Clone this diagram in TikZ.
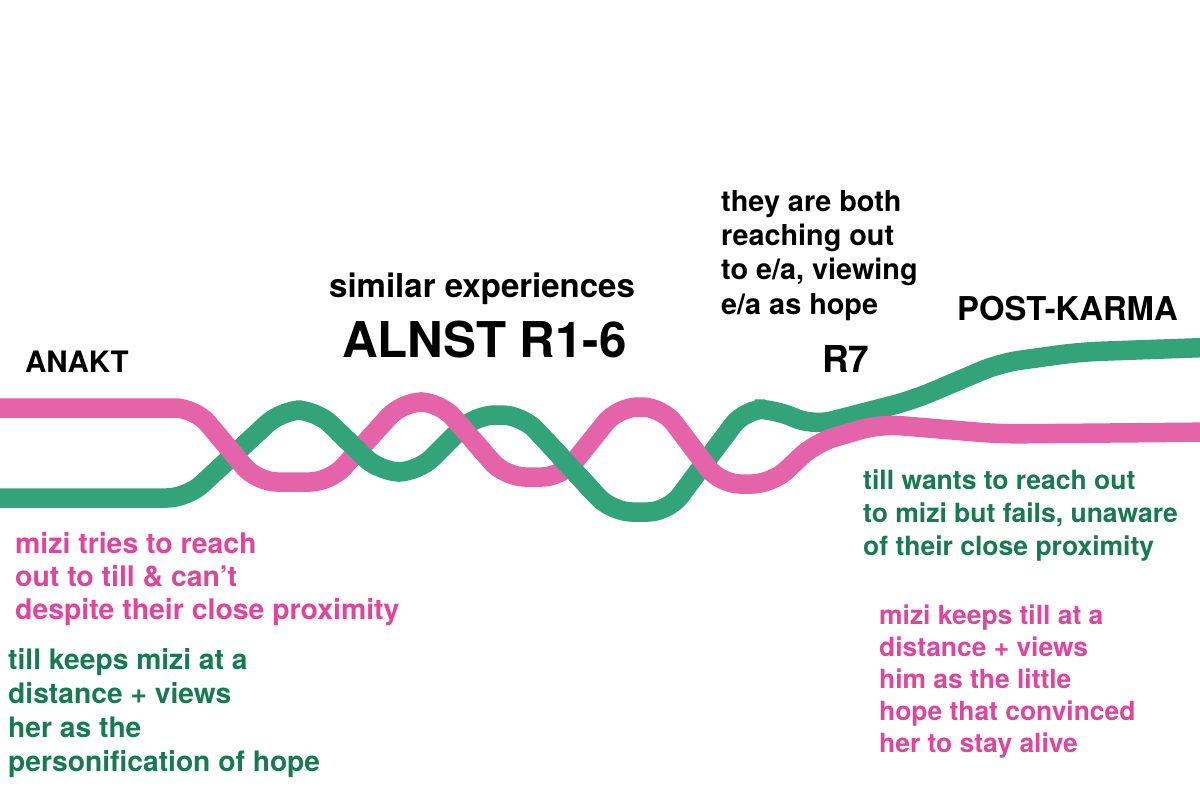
\documentclass[tikz,border=0pt]{standalone}
\usepackage{fontspec}
\setmainfont{TeX Gyre Heros}
\definecolor{pinkline}{HTML}{E563A9}
\definecolor{greenline}{HTML}{33A47A}
\definecolor{pinktext}{HTML}{E0449C}
\definecolor{greentext}{HTML}{177A50}
\tikzset{
  strand/.style={line width=19.5pt, rounded corners=20pt, line cap=butt},
  lbl/.style={anchor=base west, inner sep=0pt, font=\bfseries},
}
\newcommand{\fsz}[1]{\fontsize{#1}{#1}\selectfont}
\begin{document}
\begin{tikzpicture}[x=1pt,y=-1pt]
\useasboundingbox[fill=white] (0,0) rectangle (1200,786);
\def\greenpath{(-20,498) -- (187,498) -- (282,410) -- (316,410) -- (380,472) -- (418,472) -- (475,415) -- (522,415) -- (612,512) -- (668,512) -- (745,409) -- (775,409) -- (812,426) -- (913,400) -- (1000,363) -- (1080,352) -- (1220,347)}
\def\pinkpath{(-20,408) -- (195,408) -- (257,482) -- (330,482) -- (402,402) -- (440,402) -- (505,477) -- (562,477) -- (618,407) -- (662,407) -- (720,484) -- (772,484) -- (815,443) -- (880,424) -- (1000,434) -- (1220,432)}
\draw[strand, greenline] \greenpath;
\draw[strand, pinkline] \pinkpath;
\begin{scope}
  \clip (332,425) rectangle (374,495);
  \draw[strand, greenline] \greenpath;
\end{scope}
\begin{scope}
  \clip (552,425) rectangle (598,500);
  \draw[strand, greenline] \greenpath;
\end{scope}

% headings
\node[lbl, font=\bfseries\fsz{29.5}] (anakt) at (25,373) {ANAKT};
\node[lbl, font=\bfseries\fsz{33}] (simexp) at (329,298) {similar experiences};
\node[lbl, font=\bfseries\fsz{49.3}] (alnst) at (342,358) {ALNST R1-6};
\node[lbl, font=\bfseries\fsz{37}] (r7) at (822,373) {R7};
\node[lbl, font=\bfseries\fsz{32.8}] (post) at (957,321) {POST-KARMA};

% top black text
\node[lbl, font=\bfseries\fsz{28.8}] (b1) at (721,212) {they are both};
\node[lbl, font=\bfseries\fsz{28.8}] (b2) at (721,246) {reaching out};
\node[lbl, font=\bfseries\fsz{28.8}] (b3) at (721,280) {to e/a, viewing};
\node[lbl, font=\bfseries\fsz{28.8}] (b4) at (721,315) {e/a as hope};

% pink left
\node[lbl, pinktext, font=\bfseries\fsz{28.4}] (pl1) at (15,553) {mizi tries to reach};
\node[lbl, pinktext, font=\bfseries\fsz{28.4}] (pl2) at (15,586) {out to till \& can’t};
\node[lbl, pinktext, font=\bfseries\fsz{28.4}] (pl3) at (15,619) {despite their close proximity};

% green left
\node[lbl, greentext, font=\bfseries\fsz{28.2}] (gl1) at (8,669) {till keeps mizi at a};
\node[lbl, greentext, font=\bfseries\fsz{28.2}] (gl2) at (8,703) {distance + views};
\node[lbl, greentext, font=\bfseries\fsz{28.2}] (gl3) at (8,737) {her as the};
\node[lbl, greentext, font=\bfseries\fsz{28.2}] (gl4) at (8,771) {personification of hope};

% green right
\node[lbl, greentext, font=\bfseries\fsz{26.5}] (gr1) at (863,489) {till wants to reach out};
\node[lbl, greentext, font=\bfseries\fsz{26.5}] (gr2) at (863,522) {to mizi but fails, unaware};
\node[lbl, greentext, font=\bfseries\fsz{26.5}] (gr3) at (863,555) {of their close proximity};

% pink right
\node[lbl, pinktext, font=\bfseries\fsz{26.4}] (pr1) at (879,624) {mizi keeps till at a};
\node[lbl, pinktext, font=\bfseries\fsz{26.4}] (pr2) at (879,656) {distance + views};
\node[lbl, pinktext, font=\bfseries\fsz{26.4}] (pr3) at (879,688) {him as the little};
\node[lbl, pinktext, font=\bfseries\fsz{26.4}] (pr4) at (879,720) {hope that convinced};
\node[lbl, pinktext, font=\bfseries\fsz{26.4}] (pr5) at (879,752) {her to stay alive};
\end{tikzpicture}
\end{document}
